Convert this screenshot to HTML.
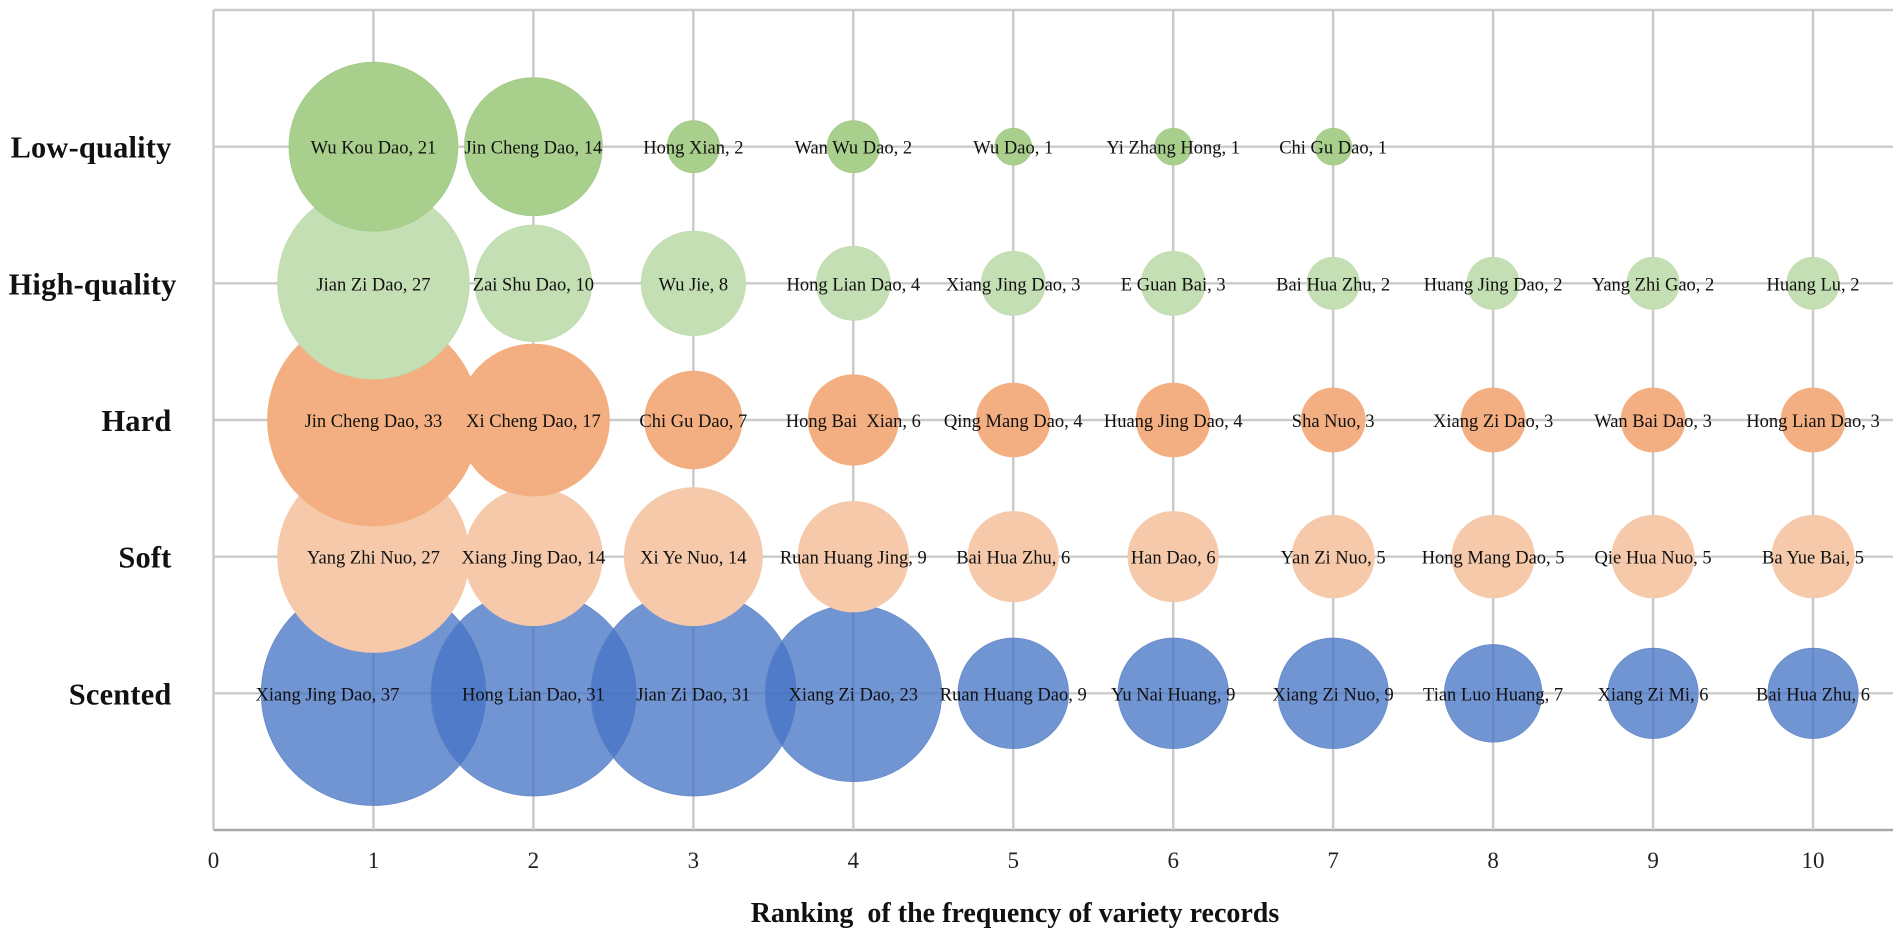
<!DOCTYPE html>
<html lang="en">
<head>
<meta charset="utf-8">
<title>Ranking of the frequency of variety records</title>
<style>
html,body{margin:0;padding:0;background:#fff;width:1902px;height:937px;overflow:hidden}
svg{display:block;font-family:"Liberation Serif",serif;filter:blur(.35px)}
</style>
</head>
<body>
<svg id="chart" width="1902" height="937" viewBox="0 0 1902 937" xmlns="http://www.w3.org/2000/svg"></svg>
<script>
const categories = ["Scented", "Soft", "Hard", "High-quality", "Low-quality"];
const xTicks = [0, 1, 2, 3, 4, 5, 6, 7, 8, 9, 10];
const scentedNames = ["Xiang Jing Dao", "Hong Lian Dao", "Jian Zi Dao", "Xiang Zi Dao", "Ruan Huang Dao", "Yu Nai Huang", "Xiang Zi Nuo", "Tian Luo Huang", "Xiang Zi Mi", "Bai Hua Zhu"];
const scentedValues = [37, 31, 31, 23, 9, 9, 9, 7, 6, 6];
const softNames = ["Yang Zhi Nuo", "Xiang Jing Dao", "Xi Ye Nuo", "Ruan Huang Jing", "Bai Hua Zhu", "Han Dao", "Yan Zi Nuo", "Hong Mang Dao", "Qie Hua Nuo", "Ba Yue Bai"];
const softValues = [27, 14, 14, 9, 6, 6, 5, 5, 5, 5];
const hardNames = ["Jin Cheng Dao", "Xi Cheng Dao", "Chi Gu Dao", "Hong Bai  Xian", "Qing Mang Dao", "Huang Jing Dao", "Sha Nuo", "Xiang Zi Dao", "Wan Bai Dao", "Hong Lian Dao"];
const hardValues = [33, 17, 7, 6, 4, 4, 3, 3, 3, 3];
const highNames = ["Jian Zi Dao", "Zai Shu Dao", "Wu Jie", "Hong Lian Dao", "Xiang Jing Dao", "E Guan Bai", "Bai Hua Zhu", "Huang Jing Dao", "Yang Zhi Gao", "Huang Lu"];
const highValues = [27, 10, 8, 4, 3, 3, 2, 2, 2, 2];
const lowNames = ["Wu Kou Dao", "Jin Cheng Dao", "Hong Xian", "Wan Wu Dao", "Wu Dao", "Yi Zhang Hong", "Chi Gu Dao"];
const lowValues = [21, 14, 2, 2, 1, 1, 1];

const NS = "http://www.w3.org/2000/svg";
const svg = document.getElementById("chart");
const left = 213.5, right = 1893, top0 = 10, bottom = 830;
const xScale = v => left + (v / 10.5) * (right - left);
const yScale = v => bottom - (v / 6) * (bottom - top0);
const rScale = v => 18.44 * Math.sqrt(v);

function make(tag, attrs, parent, text) {
  const el = document.createElementNS(NS, tag);
  for (const k in attrs) el.setAttribute(k, attrs[k]);
  if (text !== undefined) {
    el.textContent = text;
    el.style.whiteSpace = "pre";
  }
  (parent || svg).appendChild(el);
  return el;
}

const gridGroup = make("g", {});


for (let i = 0; i <= 6; i++) {
  const isAxis = i === 0;
  const line = make("line", {
    x1: left, x2: right, y1: yScale(i), y2: yScale(i),
    stroke: isAxis ? "#a8a8a8" : "#cbcbcb", "stroke-width": 2.4
  }, gridGroup);
  
  
}
xTicks.forEach(t => {
  const line = make("line", {
    x1: xScale(t), x2: xScale(t), y1: top0, y2: bottom,
    stroke: "#c8c8c8", "stroke-width": 2.4
  }, gridGroup);
  
  
  const label = make("text", {
    x: xScale(t), y: 868, "text-anchor": "middle", "font-size": 23, fill: "#222"
  }, null, String(t));
  
  
});

const seriesNames = [scentedNames, softNames, hardNames, highNames, lowNames];
const seriesValues = [scentedValues, softValues, hardValues, highValues, lowValues];
const seriesFill = ["#4472c4", "#f5c9aa", "#f3af81", "#c4dfb3", "#a9cf8d"];
const seriesOpacity = [0.76, 1, 1, 1, 1];
const seriesStroke = ["#668ac9", "#f5c9aa", "#f3af81", "#c0dbaf", "#a3ca87"];
const seriesKeys = ["scented", "soft", "hard", "high-quality", "low-quality"];
const labelLayer = [];

seriesValues.forEach((values, s) => {
  const group = make("g", {});
  
  
  values.forEach((v, i) => {
    const c = make("circle", {
      cx: xScale(i + 1), cy: yScale(s + 1), r: rScale(v),
      fill: seriesFill[s], "fill-opacity": seriesOpacity[s],
      stroke: seriesStroke[s], "stroke-width": 0.8
    }, group);
    
    
    labelLayer.push({ s, i, v, name: seriesNames[s][i] });
  });
});

const labelGroup = make("g", {});


labelLayer.forEach(d => {
  const nudge = (d.s === 0 && d.i === 0) ? -46 : 0;
  const t = make("text", {
    x: xScale(d.i + 1) + nudge, y: yScale(d.s + 1) + 7,
    "text-anchor": "middle", "font-size": 18.5, fill: "#111"
  }, labelGroup, d.name + ", " + d.v);
  
  
});

categories.forEach((c, i) => {
  const shift = c === "High-quality" ? 5 : 0;
  const t = make("text", {
    x: 171.5 + shift, y: yScale(i + 1) + 11,
    "text-anchor": "end", "font-size": 30.4, "font-weight": "bold",
    "letter-spacing": 0.2, fill: "#111"
  }, null, c);
  
  
});

const title = make("text", {
  x: 1015, y: 922, "text-anchor": "middle", "font-size": 28, "font-weight": "bold", fill: "#111"
}, null, "Ranking  of the frequency of variety records");


</script>
</body>
</html>
